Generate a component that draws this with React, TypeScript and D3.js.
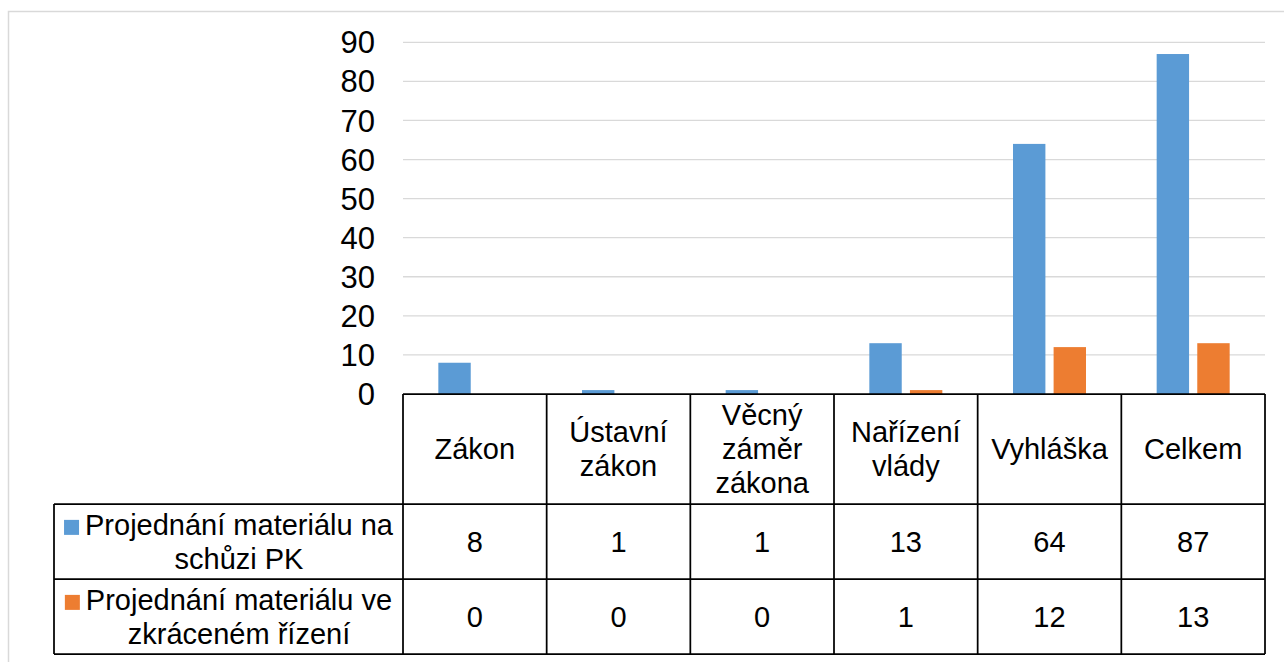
import React from 'react';
import * as d3 from 'd3';

const categories = ['Zákon', 'Ústavní zákon', 'Věcný záměr zákona', 'Nařízení vlády', 'Vyhláška', 'Celkem'];
const seriesNames = ['Projednání materiálu na schůzi PK', 'Projednání materiálu ve zkráceném řízení'];
const seriesLines = [
  ['Projednání materiálu na', 'schůzi PK'],
  ['Projednání materiálu ve', 'zkráceném řízení'],
];
const seriesColors = ['#5B9BD5', '#ED7D31'];
const valuesPK = [8, 1, 1, 13, 64, 87];
const valuesZkracene = [0, 0, 0, 1, 12, 13];
const yTicks = [0, 10, 20, 30, 40, 50, 60, 70, 80, 90];

const FONT = '"Liberation Sans", Arial, sans-serif';
const TABLE_FS = 29;
const TICK_FS = 31;
const LINE_H = 34;

function measure(text: string, size: number): number {
  if (typeof document === 'undefined') return text.length * size * 0.5;
  const c = document.createElement('canvas').getContext('2d');
  if (!c) return text.length * size * 0.5;
  c.font = `${size}px "Liberation Sans", Arial, sans-serif`;
  return c.measureText(text).width;
}

export default function App() {
  const W = 1284;
  const H = 662;
  const plotLeft = 403;
  const plotRight = 1265;
  const y0 = 394;
  const yTop = 42.3;
  const headerBottom = 504;
  const row1Bottom = 579;
  const row2Bottom = 654;
  const legendLeft = 54;

  const x = d3.scaleBand<string>().domain(categories).range([plotLeft, plotRight]).padding(0);
  const y = d3.scaleLinear().domain([0, 90]).range([y0, yTop]);

  const series = [valuesPK, valuesZkracene];
  const barW = 32.4;
  const gap = 8.2;
  const x1 = d3
    .scaleBand<number>()
    .domain([0, 1])
    .range([-(barW + gap / 2), barW + gap / 2])
    .paddingInner(gap / (barW + gap))
    .paddingOuter(0);

  const capHalf = (fs: number) => fs * 0.716 / 2;
  const rowBounds = [
    [headerBottom, row1Bottom],
    [row1Bottom, row2Bottom],
  ];

  const lineStyle = { stroke: '#000', strokeWidth: 1.75 };

  return (
    <svg
      width={W}
      height={H}
      style={{ position: 'absolute', left: 0, top: 0, display: 'block', background: '#fff' }}
      fontFamily={FONT}
    >
      <rect x={0} y={0} width={W} height={H} fill="#fff" />
      <rect x={8.5} y={11.5} width={W + 20} height={H + 20} fill="none" stroke="#d9d9d9" strokeWidth={1.5} />

      {/* gridlines */}
      {yTicks.filter((t) => t > 0).map((t) => (
        <line key={t} x1={plotLeft} x2={plotRight} y1={y(t)} y2={y(t)} stroke="#d9d9d9" strokeWidth={1.3} />
      ))}

      {/* tick labels */}
      {yTicks.map((t) => (
        <text key={t} x={375} y={y(t) + capHalf(TICK_FS)} textAnchor="end" fontSize={TICK_FS} fill="#000">
          {t}
        </text>
      ))}

      {/* bars */}
      {categories.map((c, ci) => {
        const cx = (x(c) as number) + x.bandwidth() / 2;
        return series.map((vals, si) => {
          const v = vals[ci];
          if (v <= 0) return null;
          return (
            <rect
              key={`${c}-${si}`}
              x={cx + (x1(si) as number)}
              y={y(v)}
              width={x1.bandwidth()}
              height={y(0) - y(v)}
              fill={seriesColors[si]}
            />
          );
        });
      })}

      {/* table lines */}
      <line x1={plotLeft} x2={plotRight} y1={y0} y2={y0} {...lineStyle} />
      <line x1={legendLeft} x2={plotRight} y1={headerBottom} y2={headerBottom} {...lineStyle} />
      <line x1={legendLeft} x2={plotRight} y1={row1Bottom} y2={row1Bottom} {...lineStyle} />
      <line x1={legendLeft} x2={plotRight} y1={row2Bottom} y2={row2Bottom} {...lineStyle} />
      <line x1={legendLeft} x2={legendLeft} y1={headerBottom} y2={row2Bottom} {...lineStyle} />
      {categories.map((c) => (
        <line key={c} x1={x(c) as number} x2={x(c) as number} y1={y0} y2={row2Bottom} {...lineStyle} />
      ))}
      <line x1={plotRight} x2={plotRight} y1={y0} y2={row2Bottom} {...lineStyle} />

      {/* category header labels */}
      {categories.map((c) => {
        const lines = c.split(' ');
        const cx = (x(c) as number) + x.bandwidth() / 2;
        const cy = (y0 + headerBottom) / 2;
        const first = cy + capHalf(TABLE_FS) - ((lines.length - 1) * LINE_H) / 2;
        return (
          <text key={c} x={cx} fontSize={TABLE_FS} textAnchor="middle" fill="#000">
            {lines.map((l, i) => (
              <tspan key={i} x={cx} y={first + i * LINE_H}>
                {l}
              </tspan>
            ))}
          </text>
        );
      })}

      {/* data rows */}
      {series.map((vals, si) => {
        const [top, bottom] = rowBounds[si];
        const cy = (top + bottom) / 2;
        const lines = seriesLines[si];
        const maxW = Math.max(...lines.map((l) => measure(l, TABLE_FS)));
        const cellCenter = (legendLeft + plotLeft) / 2;
        const keySize = 15;
        const keyGap = 6;
        const textCenter = cellCenter + (keySize + keyGap) / 2;
        const first = cy + capHalf(TABLE_FS) - ((lines.length - 1) * LINE_H) / 2;
        const keyX = textCenter - maxW / 2 - keyGap - keySize;
        return (
          <g key={seriesNames[si]}>
            <rect x={keyX} y={first - keySize} width={keySize} height={keySize} fill={seriesColors[si]} />
            <text fontSize={TABLE_FS} textAnchor="middle" fill="#000">
              {lines.map((l, i) => (
                <tspan key={i} x={textCenter} y={first + i * LINE_H}>
                  {l}
                </tspan>
              ))}
            </text>
            {categories.map((c, ci) => (
              <text
                key={c}
                x={(x(c) as number) + x.bandwidth() / 2}
                y={cy + capHalf(TABLE_FS)}
                fontSize={TABLE_FS}
                textAnchor="middle"
                fill="#000"
              >
                {vals[ci]}
              </text>
            ))}
          </g>
        );
      })}
    </svg>
  );
}
